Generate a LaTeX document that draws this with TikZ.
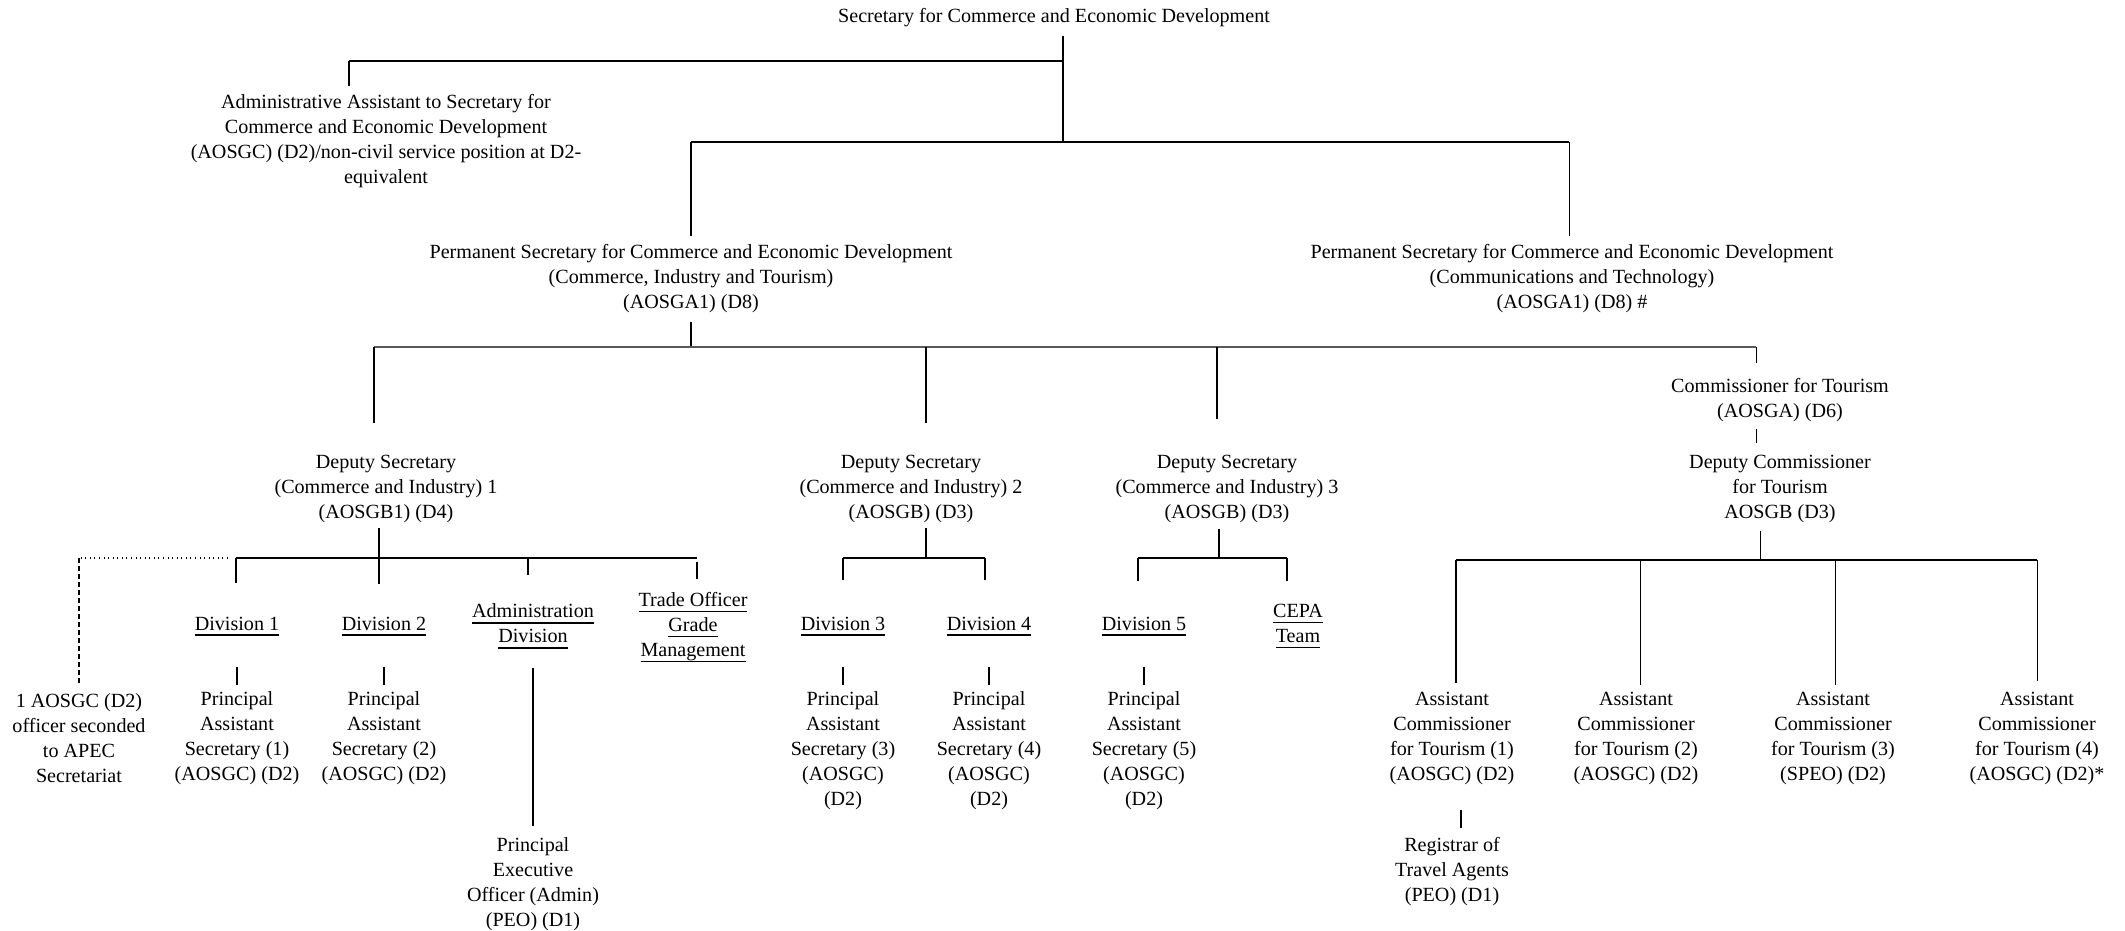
\documentclass[tikz,border=0pt]{standalone}
\usepackage{fontspec}
\setmainfont{Liberation Serif}
\newlength{\pu}\setlength{\pu}{0.01cm}
\newcommand{\ulx}[1]{\underline{\raisebox{0pt}[\height][0pt]{#1}}}
\begin{document}
\begin{tikzpicture}[x=0.01cm,y=-0.01cm,
    lbl/.style={align=center,inner sep=0pt,font=\fontsize{5.72}{7.11}\selectfont},
    bar/.style={line width=0.55pt},
    drop/.style={line width=0.3pt}]
    \useasboundingbox (0,0) rectangle (2125,931);
    %% Top level
    \node[lbl] (sec) at (1054,18) {Secretary for Commerce and Economic Development};
    \node[lbl] (aa) at (386,141) {Administrative Assistant to Secretary for\\Commerce and Economic Development\\(AOSGC) (D2)/non-civil service position at D2-\\equivalent};
    \node[lbl] (ps1) at (691,279) {Permanent Secretary for Commerce and Economic Development\\(Commerce, Industry and Tourism)\\(AOSGA1) (D8)};
    \node[lbl] (ps2) at (1572,279) {Permanent Secretary for Commerce and Economic Development\\(Communications and Technology)\\(AOSGA1) (D8) \#};
    %% Deputy level
    \node[lbl] (ds1) at (386,489) {Deputy Secretary\\(Commerce and Industry) 1\\(AOSGB1) (D4)};
    \node[lbl] (ds2) at (911,489) {Deputy Secretary\\(Commerce and Industry) 2\\(AOSGB) (D3)};
    \node[lbl] (ds3) at (1227,489) {Deputy Secretary\\(Commerce and Industry) 3\\(AOSGB) (D3)};
    \node[lbl] (ct) at (1780,400) {Commissioner for Tourism\\(AOSGA) (D6)};
    \node[lbl] (dct) at (1780,489) {Deputy Commissioner\\for Tourism\\AOSGB (D3)};
    %% Divisions
    \node[lbl] (div1) at (237,627) {\ulx{Division 1}};
    \node[lbl] (div2) at (384,627) {\ulx{Division 2}};
    \node[lbl] (adm) at (533,627) {\ulx{Administration}\\\ulx{Division}};
    \node[lbl] (tog) at (693,628) {\ulx{Trade Officer}\\\ulx{Grade}\\\ulx{Management}};
    \node[lbl] (div3) at (843,627) {\ulx{Division 3}};
    \node[lbl] (div4) at (989,627) {\ulx{Division 4}};
    \node[lbl] (div5) at (1144,627) {\ulx{Division 5}};
    \node[lbl] (cepa) at (1298,627) {\ulx{CEPA}\\\ulx{Team}};
    %% Bottom level
    \node[lbl] (apec) at (79,738) {1 AOSGC (D2)\\officer seconded\\to APEC\\Secretariat};
    \node[lbl] (pas1) at (237,738) {Principal\\Assistant\\Secretary (1)\\(AOSGC) (D2)};
    \node[lbl] (pas2) at (384,738) {Principal\\Assistant\\Secretary (2)\\(AOSGC) (D2)};
    \node[lbl] (peo) at (533,884) {Principal\\Executive\\Officer (Admin)\\(PEO) (D1)};
    \node[lbl] (pas3) at (843,751) {Principal\\Assistant\\Secretary (3)\\(AOSGC)\\(D2)};
    \node[lbl] (pas4) at (989,751) {Principal\\Assistant\\Secretary (4)\\(AOSGC)\\(D2)};
    \node[lbl] (pas5) at (1144,751) {Principal\\Assistant\\Secretary (5)\\(AOSGC)\\(D2)};
    \node[lbl] (act1) at (1452,738) {Assistant\\Commissioner\\for Tourism (1)\\(AOSGC) (D2)};
    \node[lbl] (act2) at (1636,738) {Assistant\\Commissioner\\for Tourism (2)\\(AOSGC) (D2)};
    \node[lbl] (act3) at (1833,738) {Assistant\\Commissioner\\for Tourism (3)\\(SPEO) (D2)};
    \node[lbl] (act4) at (2037,738) {Assistant\\Commissioner\\for Tourism (4)\\(AOSGC) (D2)*};
    \node[lbl] (reg) at (1452,872) {Registrar of\\Travel Agents\\(PEO) (D1)};
    %% Bus junctions
    \coordinate (j0) at (1063,61);
    \coordinate (j1) at (1063,142);
    \coordinate (a0) at (349,61);
    \coordinate (p1) at (691,142);
    \coordinate (p2) at (1569,142);
    \coordinate (q1) at (374,347);
    \coordinate (q2) at (926,347);
    \coordinate (q3) at (1217,347);
    \coordinate (q4) at (1756,347);
    \coordinate (r0) at (379,558);
    \coordinate (r1) at (236,558);
    \coordinate (r2) at (528,558);
    \coordinate (r3) at (697,558);
    \coordinate (s0) at (79,558);
    \coordinate (u1) at (843,558);
    \coordinate (u2) at (985,558);
    \coordinate (v0) at (1219,558);
    \coordinate (v1) at (1138,558);
    \coordinate (v2) at (1287,558);
    \coordinate (w0) at (1760,560);
    \coordinate (w1) at (1456,560);
    \coordinate (w2) at (1640,560);
    \coordinate (w3) at (1835,560);
    \coordinate (w4) at (2037,560);
    %% Secretary
    \draw[drop,shorten <=8\pu] (sec.south -| j1) -- (j1);
    \draw[bar] (j0) -- (a0);
    \draw[drop,shorten >=8\pu] (a0) -- (a0 |- aa.north);
    \draw[bar] (p1) -- (p2);
    \draw[drop,shorten >=8\pu] (p1) -- (p1 |- ps1.north);
    \draw[drop,shorten >=8\pu] (p2) -- (p2 |- ps2.north);
    %% Permanent Secretary (CIT)
    \draw[drop,shorten <=8\pu] (ps1.south) -- (ps1.south |- q1);
    \draw[bar,black!65] (q1) -- (q4);
    \draw[drop,shorten >=31\pu] (q1) -- (q1 |- ds1.north);
    \draw[drop,shorten >=31\pu] (q2) -- (q2 |- ds2.north);
    \draw[drop,shorten >=35\pu] (q3) -- (q3 |- ds3.north);
    \draw[drop,shorten >=15\pu] (q4) -- (q4 |- ct.north);
    \draw[drop,shorten <=7\pu,shorten >=11\pu] (q4 |- ct.south) -- (q4 |- dct.north);
    %% Deputy Secretary 1
    \draw[drop,shorten <=4\pu] (r0 |- ds1.south) -- (r0);
    \draw[bar] (r1) -- (r3);
    \draw[drop,densely dotted] (r1) ++(-8,0) -- (s0);
    \draw[drop,dash pattern=on 5\pu off 3\pu,shorten >=9\pu] (s0) -- (s0 |- apec.north);
    \draw[drop,shorten >=33\pu] (r1) -- (r1 |- div1.north);
    \draw[drop,shorten >=32\pu] (r0) -- (r0 |- div2.north);
    \draw[drop,shorten >=28\pu] (r2) -- (r2 |- adm.north);
    \draw[drop,shorten <=4\pu,shorten >=13\pu] (r3) -- (r3 |- tog.north);
    \draw[drop,shorten <=29\pu,shorten >=6\pu] (div1.south) -- (pas1.north);
    \draw[drop,shorten <=29\pu,shorten >=6\pu] (div2.south) -- (pas2.north);
    \draw[drop,shorten <=17\pu,shorten >=11\pu] (adm.south) -- (peo.north);
    %% Deputy Secretary 2
    \draw[drop,shorten <=4\pu] (ds2.south -| q2) -- (q2 |- u1);
    \draw[bar] (u1) -- (u2);
    \draw[drop,shorten >=36\pu] (u1) -- (u1 |- div3.north);
    \draw[drop,shorten >=36\pu] (u2) -- (u2 |- div4.north);
    \draw[drop,shorten <=29\pu,shorten >=6\pu] (div3.south) -- (pas3.north);
    \draw[drop,shorten <=29\pu,shorten >=6\pu] (div4.south) -- (pas4.north);
    %% Deputy Secretary 3
    \draw[drop,shorten <=5\pu] (v0 |- ds3.south) -- (v0);
    \draw[bar] (v1) -- (v2);
    \draw[drop,shorten >=35\pu] (v1) -- (v1 |- div5.north);
    \draw[drop,shorten >=23\pu] (v2) -- (v2 |- cepa.north);
    \draw[drop,shorten <=29\pu,shorten >=6\pu] (div5.south) -- (pas5.north);
    %% Deputy Commissioner for Tourism
    \draw[drop,shorten <=7\pu] (w0 |- dct.south) -- (w0);
    \draw[bar] (w1) -- (w4);
    \draw[drop,shorten >=8\pu] (w1) -- (w1 |- act1.north);
    \draw[drop,shorten >=6\pu] (w2) -- (w2 |- act2.north);
    \draw[drop,shorten >=6\pu] (w3) -- (w3 |- act3.north);
    \draw[drop,shorten >=10\pu] (w4) -- (w4 |- act4.north);
    \draw[drop,shorten <=25\pu,shorten >=9\pu] ([xshift=9\pu]act1.south) -- ([xshift=9\pu]reg.north);
\end{tikzpicture}
\end{document}
